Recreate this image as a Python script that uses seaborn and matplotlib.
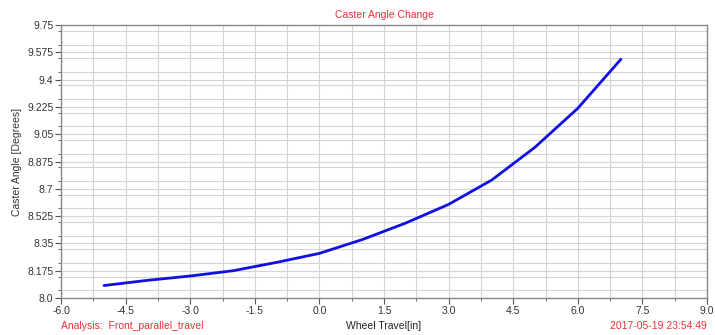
import numpy as np
import pandas as pd
import matplotlib
matplotlib.use("Agg")
import matplotlib.pyplot as plt
from matplotlib.ticker import MultipleLocator
import seaborn as sns

# --- DATA ---
wheel_travel = [-5, -4, -3, -2, -1, 0, 1, 2, 3, 4, 5, 6, 7]
caster_angle = [8.08, 8.113, 8.141, 8.175, 8.228, 8.286, 8.375, 8.48, 8.60, 8.756, 8.965, 9.216, 9.53]
x_ticks = [-6.0, -4.5, -3.0, -1.5, 0.0, 1.5, 3.0, 4.5, 6.0, 7.5, 9.0]
y_ticks = [8.0, 8.175, 8.35, 8.525, 8.7, 8.875, 9.05, 9.225, 9.4, 9.575, 9.75]
y_labels = ["8.0", "8.175", "8.35", "8.525", "8.7", "8.875", "9.05", "9.225", "9.4", "9.575", "9.75"]

df = pd.DataFrame({"travel": wheel_travel, "caster": caster_angle})

sns.set_theme(style="white")
plt.rcParams['font.family'] = ['Liberation Sans', 'DejaVu Sans']

fig = plt.figure(figsize=(7.15, 3.35), dpi=100)
ax = fig.add_axes([61 / 715, 1 - 298 / 335, (707 - 61) / 715, (298 - 25) / 335])

sns.lineplot(data=df, x="travel", y="caster", ax=ax, color="#1010e0", linewidth=2.0)

ax.set_xlim(-6, 9)
ax.set_ylim(8.0, 9.75)
ax.set_xticks(x_ticks)
ax.set_xticklabels([f"{v:.1f}" for v in x_ticks])
ax.set_yticks(y_ticks)
ax.set_yticklabels(y_labels)
ax.xaxis.set_minor_locator(MultipleLocator(0.75))
ax.yaxis.set_minor_locator(MultipleLocator(0.0875))

# major and minor grid look the same in the reference
ax.grid(True, which="both", color="#d4d4d4", linewidth=0.8)
ax.set_axisbelow(True)
for s in ax.spines.values():
    s.set_color("#888888")
    s.set_linewidth(1.0)

ax.tick_params(axis="both", which="major", direction="out", length=4, width=0.8,
               color="#555555", labelsize=7.5, labelcolor="#333333", pad=1.5,
               bottom=True, left=True)
ax.tick_params(axis="both", which="minor", direction="out", length=2, width=0.6,
               color="#555555", bottom=True, left=True)

ax.set_xlabel("")
ax.set_ylabel("Caster Angle [Degrees]", fontsize=7.5, color="#333333", labelpad=4)

fig.text(384 / 715, 1 - 15 / 335, "Caster Angle Change", color="#e8303a",
         fontsize=7.5, ha="center", va="center")
fig.text(384 / 715, 1 - 326 / 335, "Wheel Travel[in]", color="#222222",
         fontsize=7.5, ha="center", va="center")
fig.text(61 / 715, 1 - 326 / 335, "Analysis:  Front_parallel_travel", color="#e8303a",
         fontsize=7.5, ha="left", va="center")
fig.text(707 / 715, 1 - 326 / 335, "2017-05-19 23:54:49", color="#e8303a",
         fontsize=7.5, ha="right", va="center")

fig.savefig("out.png", dpi=100)
